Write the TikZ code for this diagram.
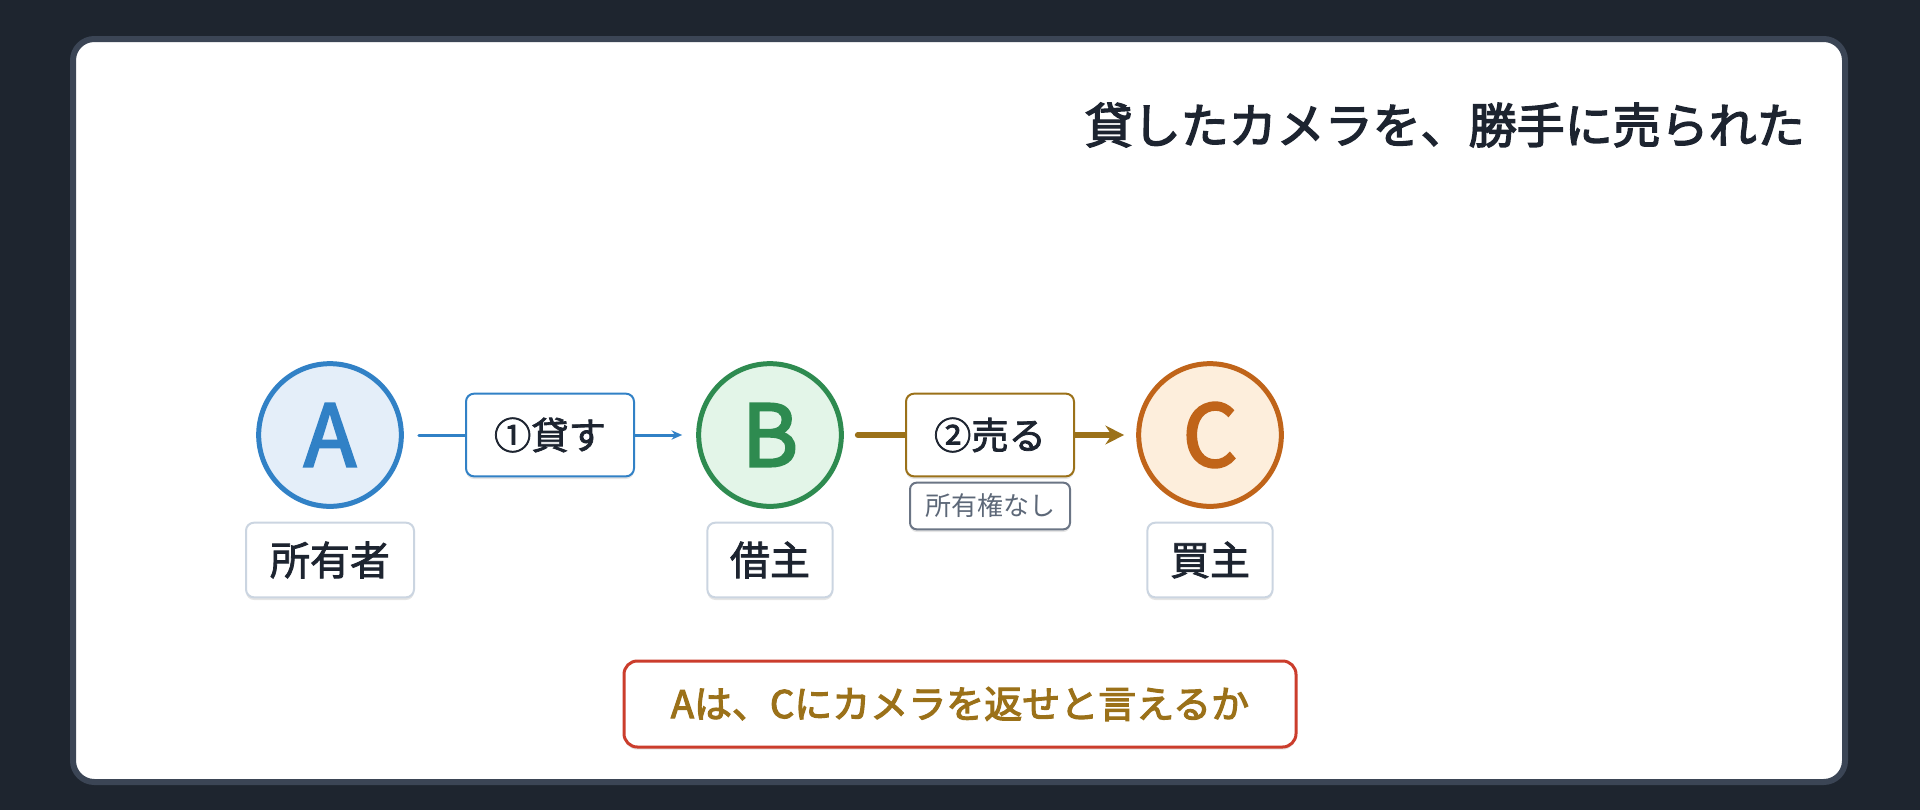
\documentclass[tikz,border=0pt]{standalone}
\usepackage{fontspec}
\newfontfamily\jp{Noto Sans CJK JP}
\newfontfamily\jpm[FakeBold=2]{Noto Sans CJK JP}
\newfontfamily\jpb[FakeBold=3]{Noto Sans CJK JP}
\usetikzlibrary{arrows.meta,shadows}
\definecolor{bgdark}{HTML}{1E252F}
\definecolor{panelborder}{HTML}{3B4555}
\definecolor{ablue}{HTML}{3181C6}
\definecolor{ablueF}{HTML}{E4EEF9}
\definecolor{bgreen}{HTML}{2E8B50}
\definecolor{bgreenF}{HTML}{E3F5E8}
\definecolor{corange}{HTML}{C06419}
\definecolor{corangeF}{HTML}{FDEEDC}
\definecolor{gold}{HTML}{9B7119}
\definecolor{qred}{HTML}{CB3D2C}
\definecolor{lblborder}{HTML}{CBD5E1}
\definecolor{darktext}{HTML}{1D2430}
\definecolor{graybd}{HTML}{6B7585}
\definecolor{graytx}{HTML}{5D6878}
\tikzset{
  softshadow/.style={drop shadow={shadow xshift=0pt, shadow yshift=-2pt, opacity=0.10, fill=black}},
  person/.style={circle, minimum size=107pt, line width=3.75pt, inner sep=0pt, softshadow, font=\jpb\fontsize{64}{64}\selectfont},
  rolebox/.style={draw=lblborder, line width=1.5pt, fill=white, rounded corners=6pt, minimum height=56pt, inner sep=0pt, text=darktext, softshadow, font=\jpm\fontsize{30}{30}\selectfont},
  actbox/.style={line width=1.5pt, fill=white, rounded corners=6pt, minimum width=126pt, minimum height=62pt, inner sep=0pt, text=darktext, softshadow, font=\jpm\fontsize{28}{28}\selectfont},
}
\begin{document}
\begin{tikzpicture}[x=0.75pt, y=-0.75pt]
\useasboundingbox (0,0) rectangle (1920,810);
\fill[bgdark] (0,0) rectangle (1920,810);
\draw[panelborder, line width=4.5pt, fill=white, rounded corners=16pt] (73,39) rectangle (1845,782);

\node[anchor=east, inner sep=0pt, text=darktext, font=\jpb\fontsize{36}{36}\selectfont] (title) at (1805,125) {貸したカメラを、勝手に売られた};

\node[person, draw=ablue, fill=ablueF, text=ablue] (A) at (330,435) {A};
\node[person, draw=bgreen, fill=bgreenF, text=bgreen] (B) at (770,435) {B};
\node[person, draw=corange, fill=corangeF, text=corange] (C) at (1210,435) {C};

\node[rolebox, minimum width=126pt] (rA) at (330,560) {所有者};
\node[rolebox, minimum width=94pt] (rB) at (770,560) {借主};
\node[rolebox, minimum width=94pt] (rC) at (1210,560) {買主};

\draw[ablue, line width=2.25pt, line cap=round, shorten <=11.25pt, shorten >=10.5pt, -{Stealth[length=8pt, width=7pt]}] (A) -- (B)
  node[midway, actbox, draw=ablue] (lend) {①貸す};
\draw[gold, line width=4.5pt, line cap=round, shorten <=10.5pt, shorten >=9pt, -{Stealth[length=14pt, width=14pt]}] (B) -- (C)
  node[midway, actbox, draw=gold] (sell) {②売る};

\node[draw=graybd, line width=1.5pt, fill=white, rounded corners=5pt, minimum width=120pt, minimum height=35pt, inner sep=0pt, text=graytx, softshadow, font=\jp\fontsize{19.5}{19.5}\selectfont] (noown) at (990,506) {所有権なし};

\node[draw=qred, line width=2.25pt, fill=white, rounded corners=10pt, minimum width=504pt, minimum height=64.5pt, inner sep=0pt, text=gold, softshadow, font=\jpb\fontsize{28.5}{28.5}\selectfont] (q) at (960,704) {Aは、Cにカメラを返せと言えるか};
\end{tikzpicture}
\end{document}
